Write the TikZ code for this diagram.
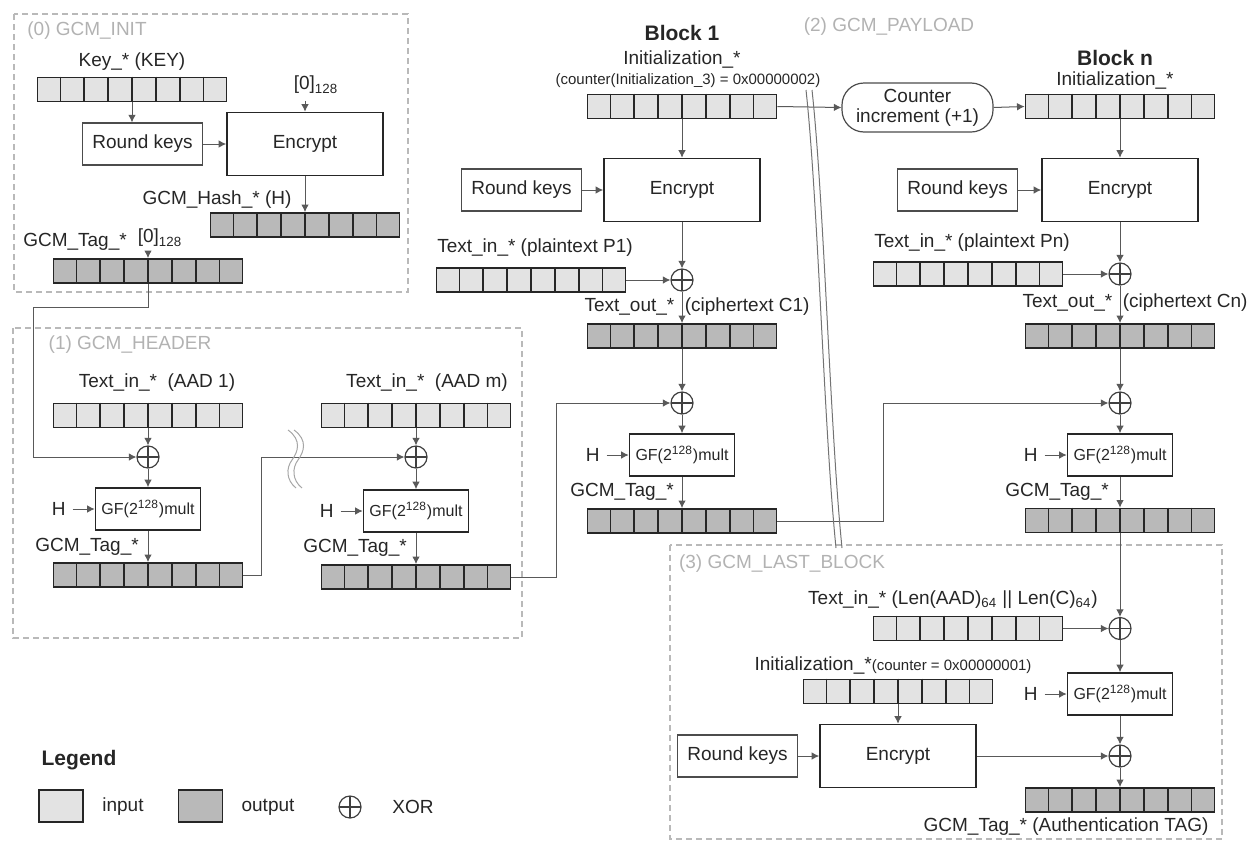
\documentclass[tikz,border=0pt]{standalone}
\usepackage{fontspec}
\setmainfont{Liberation Sans}
\usetikzlibrary{arrows.meta,positioning,calc}

% one 128-bit register drawn as 8 cells
\newcommand{\regbar}[4]{%
  \node[#4] (#1) at (#2,#3) {};
  \foreach \k in {1,...,7}
    \draw[cellline] ($(#1.north west)!\k/8!(#1.north east)$) -- ($(#1.south west)!\k/8!(#1.south east)$);
}

\begin{document}
\begin{tikzpicture}[x=0.5pt, y=-0.5pt,
  every node/.style={font=\fontsize{9.5}{11}\selectfont, text=black!85},
  inreg/.style={draw=black!85, line width=0.9pt, fill=gray!22, minimum width=94.5pt, minimum height=12pt, inner sep=0pt},
  outreg/.style={inreg, fill=gray!55},
  cellline/.style={draw=black!85, line width=0.9pt},
  opbox/.style={draw=black!85, line width=0.8pt, minimum width=78pt, minimum height=31.5pt},
  keybox/.style={draw=black!70, line width=0.6pt, minimum width=60pt, minimum height=21pt},
  multbox/.style={draw=black!85, line width=0.8pt, minimum width=52.5pt, minimum height=21pt, inner sep=1pt, font=\fontsize{8}{9}\selectfont},
  xorop/.style={circle, draw=black!75, line width=0.6pt, minimum size=11pt, inner sep=0pt,
    path picture={\draw[black!75, line width=0.6pt] (path picture bounding box.north) -- (path picture bounding box.south) (path picture bounding box.west) -- (path picture bounding box.east);}},
  wire/.style={draw=black!65, line width=0.5pt},
  arr/.style={wire, -{Latex[length=3.8pt,width=3.8pt]}},
  phase/.style={draw=gray!55, densely dashed, line width=0.6pt},
  phasetitle/.style={text=gray!60},
  small/.style={font=\fontsize{7.5}{9}\selectfont},
]
\useasboundingbox (0,0) rectangle (1256,841);

% phase frames
\draw[phase] (14,14) rectangle (408,292);
\draw[phase] (13,328) rectangle (522,638);
\draw[phase] (670,545) rectangle (1222,839);
\node[phasetitle] (t0) at (87,31) {(0) GCM\_INIT};
\node[phasetitle] (t1) at (130,345) {(1) GCM\_HEADER};
\node[phasetitle] (t2) at (889,27) {(2) GCM\_PAYLOAD};
\node[phasetitle] (t3) at (782,564) {(3) GCM\_LAST\_BLOCK};

% (0) init
\regbar{key}{132}{89.5}{inreg}
\node (keyl) at (132,62) {Key\_* (KEY)};
\node[opbox] (enc0) at (305,144) {Encrypt};
\node[keybox, left=11.5pt of enc0] (rk0) {Round keys};
\node (z0) at (316,85) {[0]\textsubscript{128}};
\regbar{hash}{305}{225}{outreg}
\node (hashl) at (217,200) {GCM\_Hash\_* (H)};
\regbar{taginit}{148}{271}{outreg}
\node (taginitl) at (75,242) {GCM\_Tag\_*};
\node (zt) at (160,238) {[0]\textsubscript{128}};

\draw[arr] (key.south) -- (key.south |- rk0.north);
\draw[arr] (rk0.east) -- (enc0.west);
\draw[arr] (enc0.north |- z0.south) -- (enc0.north);
\draw[arr] (enc0.south) -- (hash.north);
\draw[arr] (taginit.north |- zt.south) -- (taginit.north);

% (1) header
\regbar{aad1}{148}{415.5}{inreg}
\node (aad1l) at (157,383) {Text\_in\_*\ \ (AAD 1)};
\node[xorop] (xh1) at (148,457) {};
\node[multbox] (gh1) at (148,509) {GF(2\textsuperscript{128})mult};
\node (hh1) [left=11pt of gh1] {H};
\regbar{tagh1}{148}{575}{outreg}
\node (tagh1l) at (87,547) {GCM\_Tag\_*};

\regbar{aadm}{416}{415.5}{inreg}
\node (aadml) at (427,383) {Text\_in\_*\ \ (AAD m)};
\node[xorop] (xh2) at (416,457) {};
\node[multbox] (gh2) at (416,511) {GF(2\textsuperscript{128})mult};
\node (hh2) [left=11pt of gh2] {H};
\regbar{tagh2}{416}{577}{outreg}
\node (tagh2l) at (355,548) {GCM\_Tag\_*};

\draw[arr] (taginit.south) |- (33,307) |- (xh1.west);
\draw[arr] (aad1.south) -- (xh1.north);
\draw[arr] (xh1.south) -- (gh1.north);
\draw[arr] (hh1.east) -- (gh1.west);
\draw[arr] (gh1.south) -- (tagh1.north);
\draw[arr] (tagh1.east) -- ++(18,0) |- (xh2.west);
\draw[arr] (aadm.south) -- (xh2.north);
\draw[arr] (xh2.south) -- (gh2.north);
\draw[arr] (hh2.east) -- (gh2.west);
\draw[arr] (gh2.south) -- (tagh2.north);

% break mark between AAD blocks
\draw[gray!70, line width=0.5pt] (288,430) .. controls (302,440) and (298,452) .. (292,460) .. controls (286,468) and (286,480) .. (296,488);
\draw[gray!70, line width=0.5pt] (294,430) .. controls (308,440) and (304,452) .. (298,460) .. controls (292,468) and (292,480) .. (302,488);

% (2) payload, block 1
\node[font=\bfseries\fontsize{10.5}{12}\selectfont] (b1) at (682,33) {Block 1};
\node (init1l) at (682,60) {Initialization\_*};
\node[small] (init1c) at (688,81) {(counter(Initialization\_3) = 0x00000002)};
\regbar{init1}{682}{106.5}{inreg}
\node[opbox] (enc1) at (682,190) {Encrypt};
\node[keybox, left=10.5pt of enc1] (rk1) {Round keys};
\regbar{p1}{531}{280}{inreg}
\node (p1l) at (535,248) {Text\_in\_* (plaintext P1)};
\node[xorop] (x1a) at (682,280) {};
\regbar{c1}{682}{336}{outreg}
\node (c1l) at (697,307) {Text\_out\_*\ \ (ciphertext C1)};
\node[xorop] (x1b) at (682,403) {};
\node[multbox] (g1) at (682,455) {GF(2\textsuperscript{128})mult};
\node (h1) [left=11pt of g1] {H};
\regbar{tag1}{682}{521}{outreg}
\node (tag1l) at (622,492) {GCM\_Tag\_*};

\draw[arr] (init1.south) -- (enc1.north);
\draw[arr] (rk1.east) -- (enc1.west);
\draw[arr] (enc1.south) -- (x1a.north);
\draw[arr] (p1.east) -- (x1a.west);
\draw[arr] (x1a.south) -- (c1.north);
\draw[arr] (c1.south) -- (x1b.north);
\draw[arr] (tagh2.east) -- ++(45,0) |- (x1b.west);
\draw[arr] (x1b.south) -- (g1.north);
\draw[arr] (h1.east) -- (g1.west);
\draw[arr] (g1.south) -- (tag1.north);

% counter
\node[draw=black!70, line width=0.6pt, rounded corners=11pt, minimum width=75.5pt, minimum height=24.5pt, align=center, inner sep=1pt, font=\fontsize{9.5}{10}\selectfont] (cnt) at (917.5,107.5) {Counter\\increment (+1)};

% block n
\node[font=\bfseries\fontsize{10.5}{12}\selectfont] (bn) at (1115,58) {Block n};
\node (initnl) at (1115,80) {Initialization\_*};
\regbar{initn}{1120}{106.5}{inreg}
\node[opbox] (encn) at (1120,190) {Encrypt};
\node[keybox, left=11.5pt of encn] (rkn) {Round keys};
\regbar{pn}{968}{274}{inreg}
\node (pnl) at (972,243) {Text\_in\_* (plaintext Pn)};
\node[xorop] (xna) at (1120,274) {};
\regbar{cn}{1120}{336}{outreg}
\node (cnl) at (1135,303) {Text\_out\_*\ \ (ciphertext Cn)};
\node[xorop] (xnb) at (1120,403) {};
\node[multbox] (gn) at (1120,455) {GF(2\textsuperscript{128})mult};
\node (hn) [left=11pt of gn] {H};
\regbar{tagn}{1120}{520.5}{outreg}
\node (tagnl) at (1057,492) {GCM\_Tag\_*};

\draw[arr] (init1.east) -- (cnt.west);
\draw[arr] (cnt.east) -- (initn.west);
\draw[arr] (initn.south) -- (encn.north);
\draw[arr] (rkn.east) -- (encn.west);
\draw[arr] (encn.south) -- (xna.north);
\draw[arr] (pn.east) -- (xna.west);
\draw[arr] (xna.south) -- (cn.north);
\draw[arr] (cn.south) -- (xnb.north);
\draw[arr] (tag1.east) -- ++(106,0) |- (xnb.west);
\draw[arr] (xnb.south) -- (gn.north);
\draw[arr] (hn.east) -- (gn.west);
\draw[arr] (gn.south) -- (tagn.north);

% separator between blocks
\draw[black!55, line width=0.5pt] (806,90) .. controls (818,200) and (824,430) .. (836,548);
\draw[black!55, line width=0.5pt] (812,90) .. controls (824,200) and (830,430) .. (842,548);

% (3) last block
\node (lenl) at (953,600) {Text\_in\_* (Len(AAD)\textsubscript{64} || Len(C)\textsubscript{64})};
\regbar{lenin}{968}{628.5}{inreg}
\node[xorop] (xl1) at (1120,628.5) {};
\node (initll) at (893,665) {Initialization\_*{\fontsize{7.5}{9}\selectfont(counter = 0x00000001)}};
\regbar{initl}{898}{691.5}{inreg}
\node[multbox] (gl) at (1120,694) {GF(2\textsuperscript{128})mult};
\node (hl) [left=11pt of gl] {H};
\node[opbox] (encl) at (898,756) {Encrypt};
\node[keybox, left=10.5pt of encl] (rkl) {Round keys};
\node[xorop] (xl2) at (1120,756) {};
\regbar{tagf}{1120}{800}{outreg}
\node (tagfl) at (1066,827) {GCM\_Tag\_* (Authentication TAG)};

\draw[arr] (tagn.south) -- (xl1.north);
\draw[arr] (lenin.east) -- (xl1.west);
\draw[arr] (xl1.south) -- (gl.north);
\draw[arr] (hl.east) -- (gl.west);
\draw[arr] (gl.south) -- (xl2.north);
\draw[arr] (initl.south) -- (encl.north);
\draw[arr] (rkl.east) -- (encl.west);
\draw[arr] (encl.east) -- (xl2.west);
\draw[arr] (xl2.south) -- (tagf.north);

% legend
\node[font=\bfseries\fontsize{10.5}{12}\selectfont] (lg) at (79,760) {Legend};
\node[inreg, minimum width=22pt, minimum height=16pt, line width=0.6pt] (lgin) at (61,806) {};
\node (lgint) at (123,807) {input};
\node[outreg, minimum width=22pt, minimum height=16pt, line width=0.6pt] (lgout) at (200.5,806) {};
\node (lgoutt) at (268,807) {output};
\node[xorop] (lgx) at (350,807) {};
\node (lgxt) at (413,807) {XOR};
\end{tikzpicture}
\end{document}
